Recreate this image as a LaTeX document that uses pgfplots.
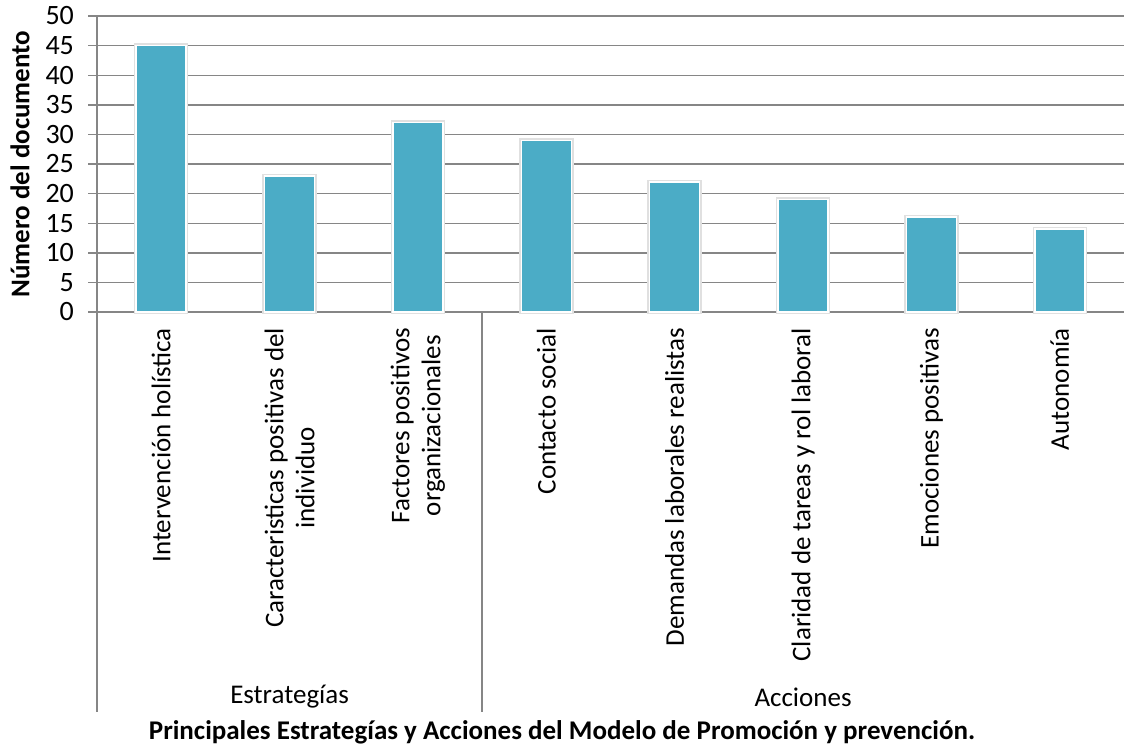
\documentclass[border=0pt]{standalone}
\usepackage{fontspec}
\setmainfont{Carlito}
\usepackage{pgfplots}
\pgfplotsset{compat=1.18}
\definecolor{barc}{HTML}{4BACC6}
\definecolor{axc}{HTML}{868686}
\begin{document}
\begin{tikzpicture}[font=\fontsize{13.5}{15.5}\selectfont]
\useasboundingbox (-48.5pt,-218.5pt) rectangle (513.5pt,156pt);
\begin{axis}[
  at={(0,0)}, anchor=south west,
  width=513.5pt, height=148pt, scale only axis,
  xmin=-0.5, xmax=7.5, ymin=0, ymax=50,
  ytick={0,5,...,50},
  xtick={0,...,7},
  xticklabels={Intervención holística,
    {Caracteristicas positivas del\\individuo},
    {Factores positivos\\organizacionales},
    Contacto social,
    Demandas laborales realistas,
    Claridad de tareas y rol laboral,
    Emociones positivas,
    Autonomía},
  axis x line*=bottom, axis y line*=left,
  axis line style={axc, line width=0.7pt, -},
  ymajorgrids, grid style={axc, line width=0.7pt},
  ytick style={axc, line width=0.7pt},
  tick align=outside, major tick length=4.5pt,
  xtick style={draw=none},
  xticklabel style={rotate=90, anchor=east, align=center, font=\fontsize{13.5}{15.5}\selectfont},
  yticklabel style={font=\fontsize{14}{16}\selectfont, xshift=-3.5pt},
  /pgf/number format/assume math mode=true,
  clip=false,
  ybar, bar width=25pt,
]
\addplot[fill=barc, draw=white, line width=0.8pt, preaction={draw=black!12, line width=2.2pt}] coordinates {(0,45) (1,23) (2,32) (3,29) (4,22) (5,19) (6,16) (7,14)};
\draw[axc, line width=0.7pt] (axis cs:-0.5,0) -- ++(0pt,-200pt);
\draw[axc, line width=0.7pt] (axis cs:2.5,0) -- ++(0pt,-200pt);
\node at ([yshift=-192.5pt]axis cs:1,0) {Estrategías};
\node at ([yshift=-192.5pt]axis cs:5,0) {Acciones};
\end{axis}
\node[rotate=90, font=\bfseries\fontsize{13.5}{15.5}\selectfont] at (-38.5pt,74pt) {Número del documento};
\node[font=\bfseries\fontsize{13.5}{15.5}\selectfont] at (232.5pt,-210pt) {Principales Estrategías y Acciones del Modelo de Promoción y prevención.};
\end{tikzpicture}
\end{document}
